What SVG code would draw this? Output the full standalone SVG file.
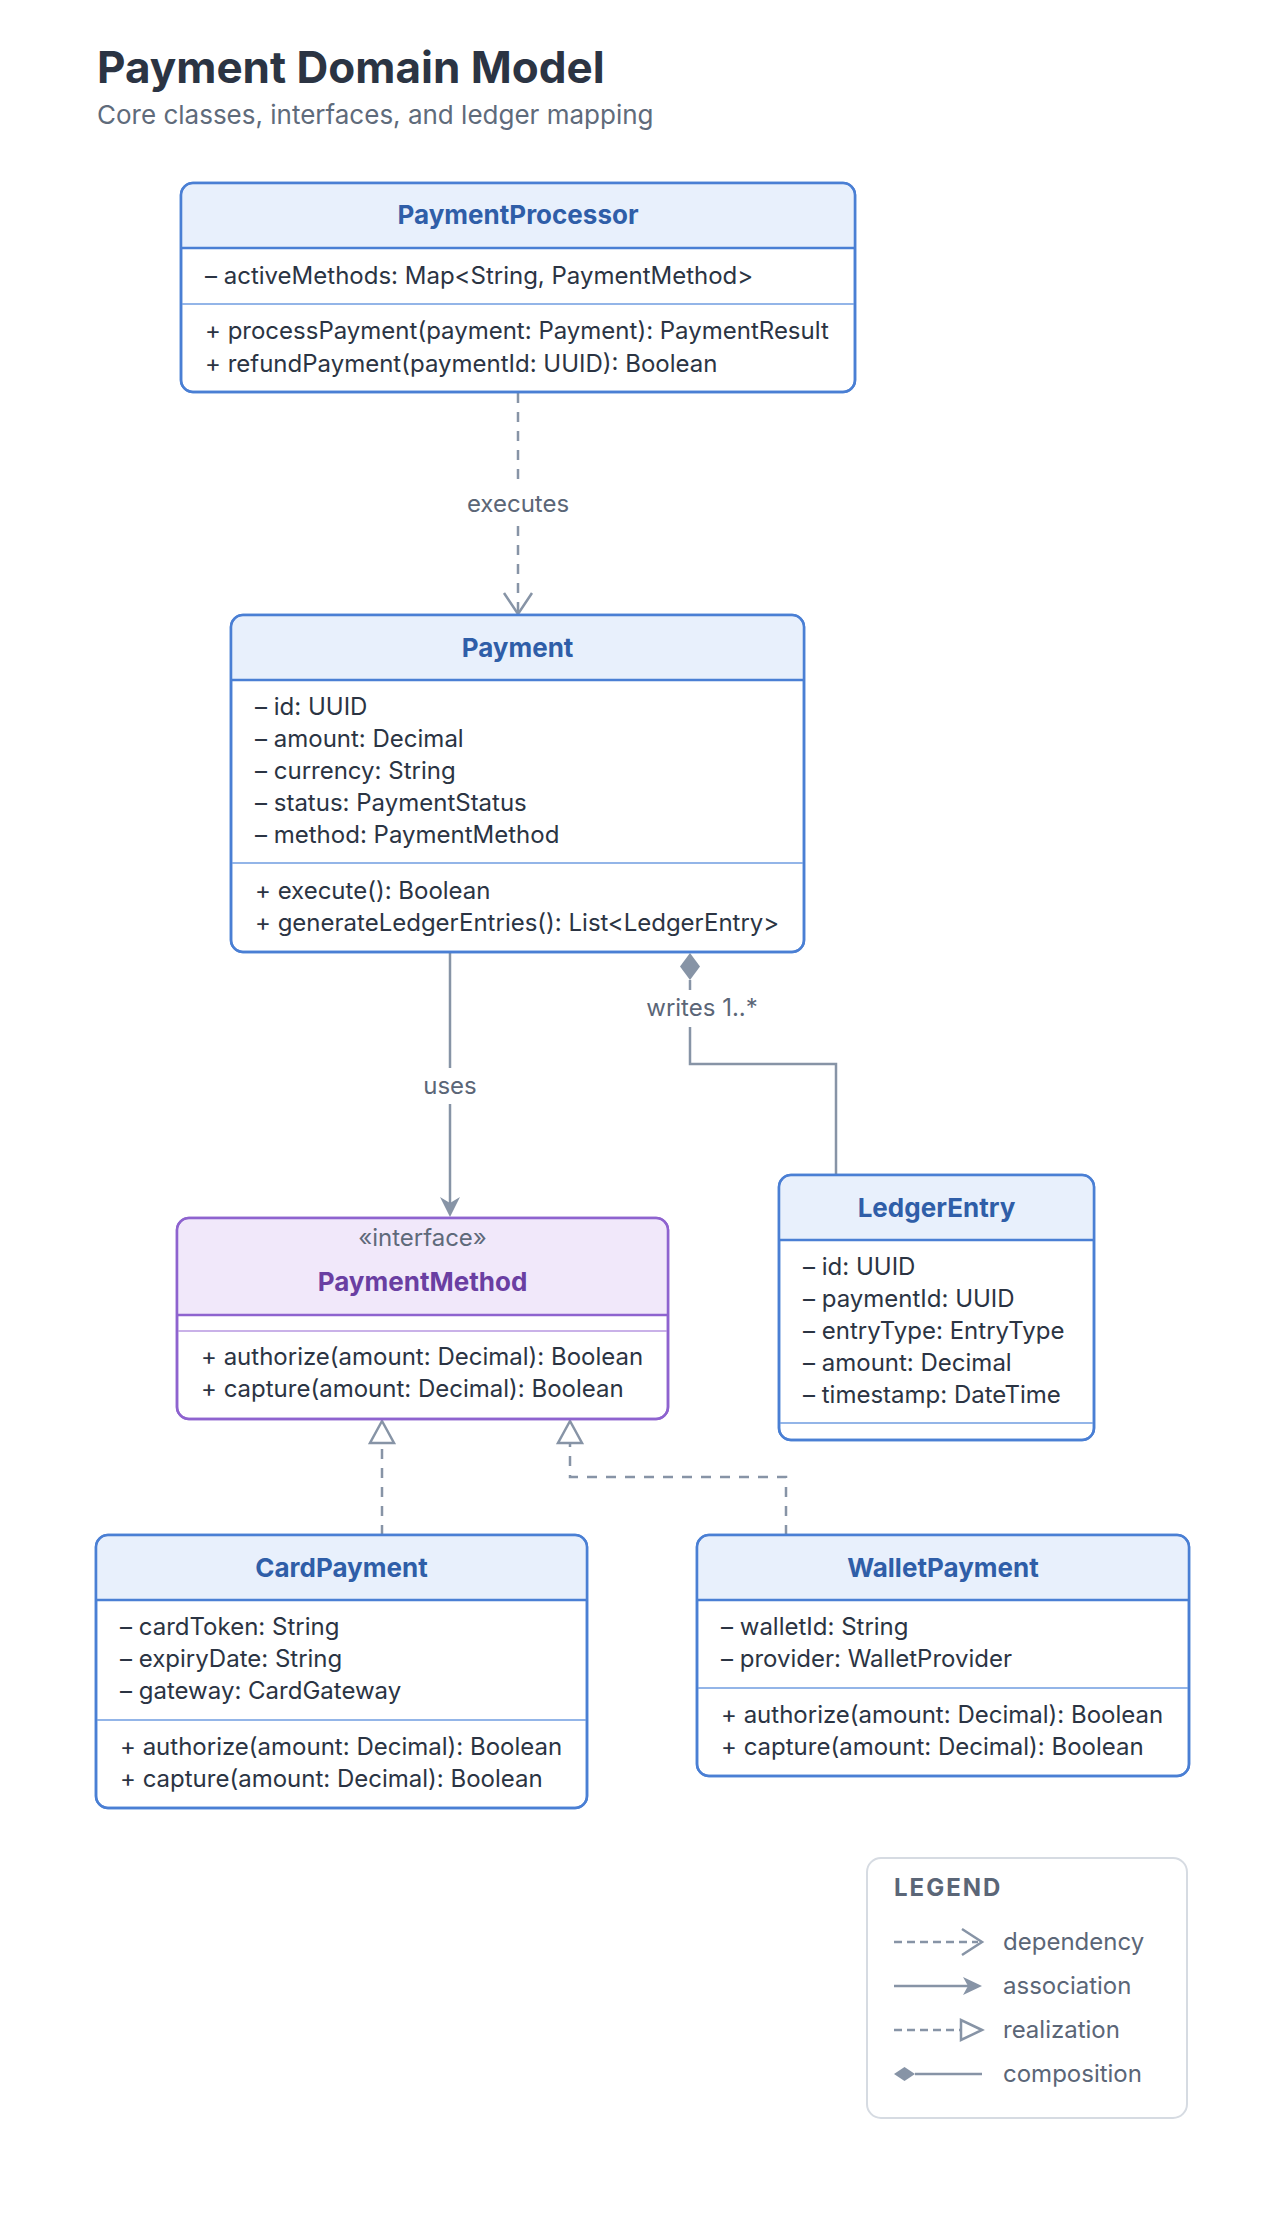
<svg xmlns="http://www.w3.org/2000/svg" width="1284" height="2216" viewBox="0 0 1284 2216">
<style>
text{font-family:Inter,"Noto Sans","Liberation Sans",sans-serif;}
.title{font-size:44px;font-weight:700;fill:#2B3443;}
.sub{font-size:26px;fill:#5F6B7B;}
.box{fill:#FFFFFF;stroke:#4A7FD4;stroke-width:2.5;}
.hdr{fill:#E8F0FC;}
.hline{stroke:#4A7FD4;stroke-width:2.5;}
.dline{stroke:#93B5E8;stroke-width:2;}
.name{font-size:26px;font-weight:700;fill:#2F5EA8;text-anchor:middle;}
.txt{font-size:24px;fill:#2B3443;}
.ibox{fill:#FFFFFF;stroke:#8E63CF;stroke-width:2.5;}
.ihdr{fill:#F1E8FA;}
.ihline{stroke:#8E63CF;stroke-width:2.5;}
.idline{stroke:#C9B1E8;stroke-width:2;}
.iname{font-size:26px;font-weight:700;fill:#6A3FA2;text-anchor:middle;}
.stereo{font-size:24px;fill:#5F6A7A;text-anchor:middle;}
.conn{fill:none;stroke:#8794A6;stroke-width:2.5;}
.dash{stroke-dasharray:10 9;}
.ldash{stroke-dasharray:8 5;}
.head{fill:#8794A6;stroke:none;}
.hollow{fill:#FFFFFF;stroke:#8794A6;stroke-width:2.5;stroke-linejoin:miter;}
.lbl{font-size:24px;fill:#5B6677;text-anchor:middle;}
.lgbox{fill:#FFFFFF;stroke:#D6DBE2;stroke-width:2;}
.lgtitle{font-size:24px;font-weight:700;fill:#5B6677;letter-spacing:2px;}
.lgtxt{font-size:24px;fill:#5B6677;}
</style>
<rect x="0" y="0" width="1284" height="2216" fill="#FFFFFF"/>
<text class="title" x="97" y="83">Payment Domain Model</text>
<text class="sub" x="97" y="124">Core classes, interfaces, and ledger mapping</text>

<g id="connectors">
  <!-- executes: PaymentProcessor -> Payment (dependency) -->
  <line class="conn dash" x1="518" y1="393" x2="518" y2="612"/>
  <polyline class="conn" points="504,593 518,614 532,593"/>
  <rect x="462" y="484" width="112" height="38" fill="#FFFFFF"/>
  <text class="lbl" x="518" y="512">executes</text>
  <!-- uses: Payment -> PaymentMethod (association) -->
  <line class="conn" x1="450" y1="953" x2="450" y2="1205"/>
  <path class="head" d="M450,1217 L440,1197 L450,1203 L460,1197 Z"/>
  <rect x="418" y="1068" width="64" height="36" fill="#FFFFFF"/>
  <text class="lbl" x="450" y="1094">uses</text>
  <!-- writes 1..*: Payment -> LedgerEntry (composition) -->
  <polyline class="conn" points="690,980 690,1064 836,1064 836,1175"/>
  <path class="head" d="M690,953 L700,966.5 L690,980 L680,966.5 Z"/>
  <rect x="640" y="990" width="124" height="37" fill="#FFFFFF"/>
  <text class="lbl" x="702" y="1016">writes 1..*</text>
  <!-- CardPayment realizes PaymentMethod -->
  <line class="conn dash" x1="382" y1="1535" x2="382" y2="1443"/>
  <path class="hollow" d="M382,1421 L394,1443 L370,1443 Z"/>
  <!-- WalletPayment realizes PaymentMethod -->
  <polyline class="conn dash" points="786,1535 786,1477 570,1477 570,1443"/>
  <path class="hollow" d="M570,1421 L582,1443 L558,1443 Z"/>
</g>

<g id="node-PaymentProcessor">
  <rect class="box" x="181" y="183" width="674" height="209" rx="12"/>
  <path class="hdr" d="M193,184.25 H843 A10.75,10.75 0 0 1 853.75,195 V248 H182.25 V195 A10.75,10.75 0 0 1 193,184.25 Z"/>
  <line class="hline" x1="181" y1="248" x2="855" y2="248"/>
  <line class="dline" x1="182" y1="304" x2="854" y2="304"/>
  <rect class="box" x="181" y="183" width="674" height="209" rx="12" style="fill:none"/>
  <text class="name" x="518" y="224">PaymentProcessor</text>
  <text class="txt" x="205" y="284">– activeMethods: Map&lt;String, PaymentMethod&gt;</text>
  <text class="txt" x="205" y="339">+ processPayment(payment: Payment): PaymentResult</text>
  <text class="txt" x="205" y="372">+ refundPayment(paymentId: UUID): Boolean</text>
</g>

<g id="node-Payment">
  <rect class="box" x="231" y="615" width="573" height="337" rx="12"/>
  <path class="hdr" d="M243,616.25 H792 A10.75,10.75 0 0 1 802.75,627 V680 H232.25 V627 A10.75,10.75 0 0 1 243,616.25 Z"/>
  <line class="hline" x1="231" y1="680" x2="804" y2="680"/>
  <line class="dline" x1="232" y1="863" x2="803" y2="863"/>
  <rect class="box" x="231" y="615" width="573" height="337" rx="12" style="fill:none"/>
  <text class="name" x="517.5" y="657">Payment</text>
  <text class="txt" x="255" y="715">– id: UUID</text>
  <text class="txt" x="255" y="747">– amount: Decimal</text>
  <text class="txt" x="255" y="779">– currency: String</text>
  <text class="txt" x="255" y="811">– status: PaymentStatus</text>
  <text class="txt" x="255" y="843">– method: PaymentMethod</text>
  <text class="txt" x="255" y="899">+ execute(): Boolean</text>
  <text class="txt" x="255" y="931">+ generateLedgerEntries(): List&lt;LedgerEntry&gt;</text>
</g>

<g id="node-PaymentMethod">
  <rect class="ibox" x="177" y="1218" width="491" height="201" rx="12"/>
  <path class="ihdr" d="M189,1219.25 H656 A10.75,10.75 0 0 1 666.75,1230 V1315 H178.25 V1230 A10.75,10.75 0 0 1 189,1219.25 Z"/>
  <line class="ihline" x1="177" y1="1315" x2="668" y2="1315"/>
  <line class="idline" x1="178" y1="1331" x2="667" y2="1331"/>
  <rect class="ibox" x="177" y="1218" width="491" height="201" rx="12" style="fill:none"/>
  <text class="stereo" x="422.5" y="1246">«interface»</text>
  <text class="iname" x="422.5" y="1291">PaymentMethod</text>
  <text class="txt" x="201" y="1365">+ authorize(amount: Decimal): Boolean</text>
  <text class="txt" x="201" y="1397">+ capture(amount: Decimal): Boolean</text>
</g>

<g id="node-LedgerEntry">
  <rect class="box" x="779" y="1175" width="315" height="265" rx="12"/>
  <path class="hdr" d="M791,1176.25 H1082 A10.75,10.75 0 0 1 1092.75,1187 V1240 H780.25 V1187 A10.75,10.75 0 0 1 791,1176.25 Z"/>
  <line class="hline" x1="779" y1="1240" x2="1094" y2="1240"/>
  <line class="dline" x1="780" y1="1423" x2="1093" y2="1423"/>
  <rect class="box" x="779" y="1175" width="315" height="265" rx="12" style="fill:none"/>
  <text class="name" x="936.5" y="1217">LedgerEntry</text>
  <text class="txt" x="803" y="1275">– id: UUID</text>
  <text class="txt" x="803" y="1307">– paymentId: UUID</text>
  <text class="txt" x="803" y="1339">– entryType: EntryType</text>
  <text class="txt" x="803" y="1371">– amount: Decimal</text>
  <text class="txt" x="803" y="1403">– timestamp: DateTime</text>
</g>

<g id="node-CardPayment">
  <rect class="box" x="96" y="1535" width="491" height="273" rx="12"/>
  <path class="hdr" d="M108,1536.25 H575 A10.75,10.75 0 0 1 585.75,1547 V1600 H97.25 V1547 A10.75,10.75 0 0 1 108,1536.25 Z"/>
  <line class="hline" x1="96" y1="1600" x2="587" y2="1600"/>
  <line class="dline" x1="97" y1="1720" x2="586" y2="1720"/>
  <rect class="box" x="96" y="1535" width="491" height="273" rx="12" style="fill:none"/>
  <text class="name" x="341.5" y="1577">CardPayment</text>
  <text class="txt" x="120" y="1635">– cardToken: String</text>
  <text class="txt" x="120" y="1667">– expiryDate: String</text>
  <text class="txt" x="120" y="1699">– gateway: CardGateway</text>
  <text class="txt" x="120" y="1755">+ authorize(amount: Decimal): Boolean</text>
  <text class="txt" x="120" y="1787">+ capture(amount: Decimal): Boolean</text>
</g>

<g id="node-WalletPayment">
  <rect class="box" x="697" y="1535" width="492" height="241" rx="12"/>
  <path class="hdr" d="M709,1536.25 H1177 A10.75,10.75 0 0 1 1187.75,1547 V1600 H698.25 V1547 A10.75,10.75 0 0 1 709,1536.25 Z"/>
  <line class="hline" x1="697" y1="1600" x2="1189" y2="1600"/>
  <line class="dline" x1="698" y1="1688" x2="1188" y2="1688"/>
  <rect class="box" x="697" y="1535" width="492" height="241" rx="12" style="fill:none"/>
  <text class="name" x="943" y="1577">WalletPayment</text>
  <text class="txt" x="721" y="1635">– walletId: String</text>
  <text class="txt" x="721" y="1667">– provider: WalletProvider</text>
  <text class="txt" x="721" y="1723">+ authorize(amount: Decimal): Boolean</text>
  <text class="txt" x="721" y="1755">+ capture(amount: Decimal): Boolean</text>
</g>

<g id="legend">
  <rect class="lgbox" x="867" y="1858" width="320" height="260" rx="14"/>
  <text class="lgtitle" x="894" y="1896">LEGEND</text>
  <line class="conn ldash" x1="894" y1="1942" x2="978" y2="1942"/>
  <polyline class="conn" points="962,1929 982,1942 962,1955"/>
  <text class="lgtxt" x="1003" y="1950">dependency</text>
  <line class="conn" x1="894" y1="1986" x2="972" y2="1986"/>
  <path class="head" d="M982,1986 L963,1977 L968,1986 L963,1995 Z"/>
  <text class="lgtxt" x="1003" y="1994">association</text>
  <line class="conn ldash" x1="894" y1="2030" x2="960" y2="2030"/>
  <path class="hollow" d="M982,2030 L961,2020 L961,2040 Z"/>
  <text class="lgtxt" x="1003" y="2038">realization</text>
  <path class="head" d="M894,2074 L904.5,2067 L915,2074 L904.5,2081 Z"/>
  <line class="conn" x1="915" y1="2074" x2="982" y2="2074"/>
  <text class="lgtxt" x="1003" y="2082">composition</text>
</g>
</svg>
